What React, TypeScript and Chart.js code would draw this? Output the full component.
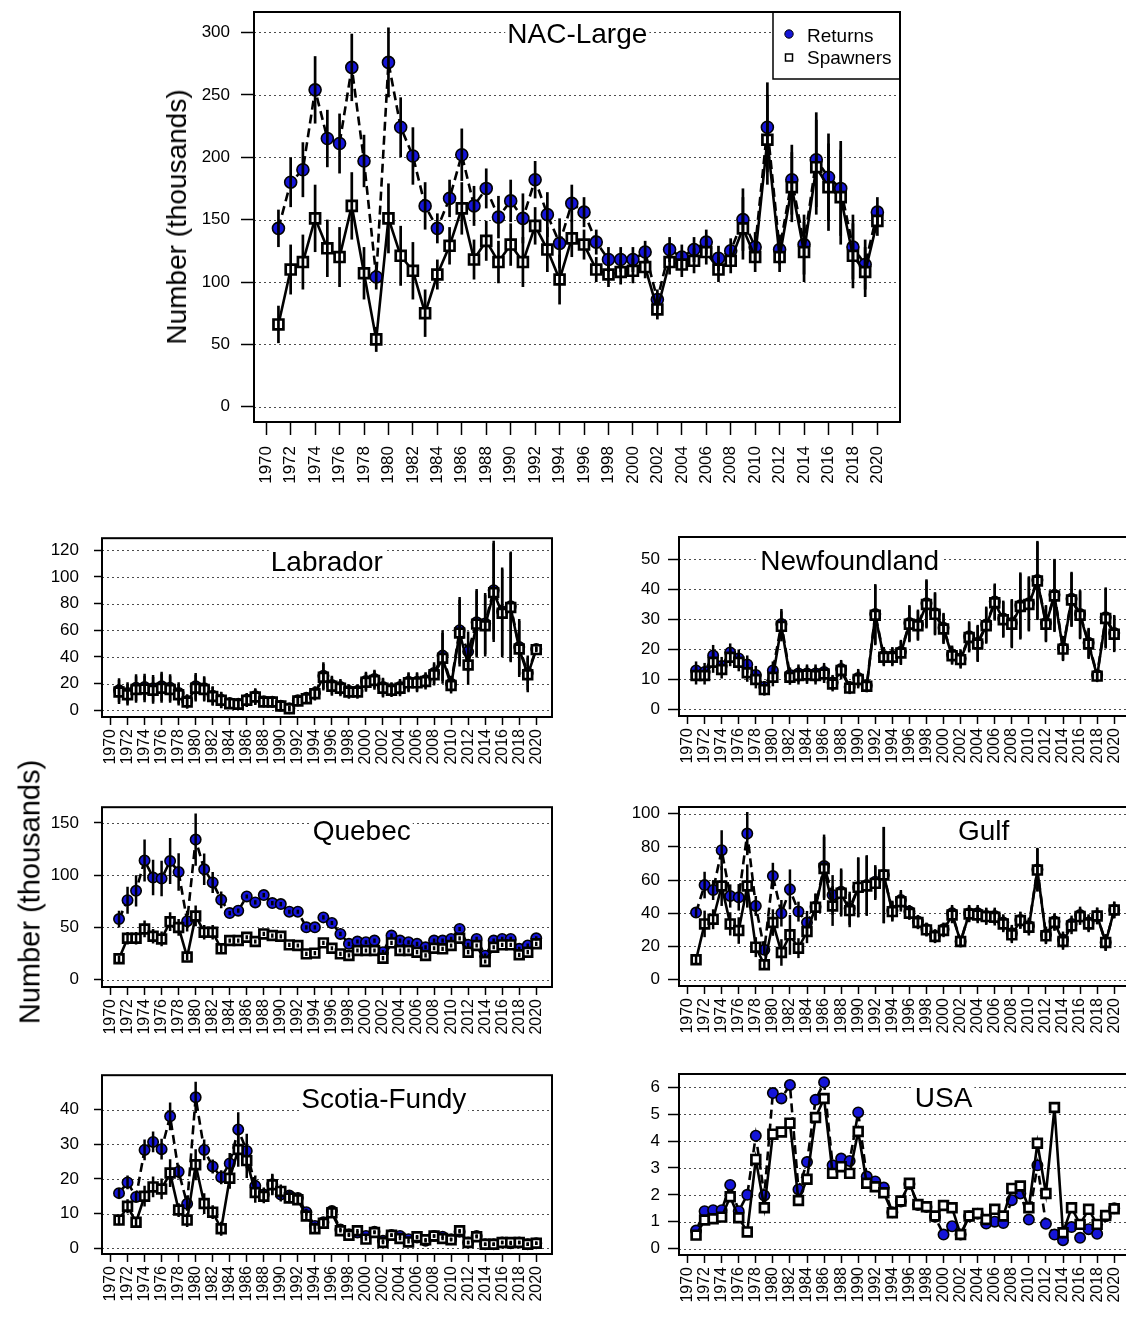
import React, { useEffect, useRef } from "react";
import { Chart, registerables } from "chart.js";

Chart.register(...registerables);

const FONT = "'Liberation Sans', Arial, Helvetica, sans-serif";
const BLUE = "#1515d8";

const years = [
  1971, 1972, 1973, 1974, 1975, 1976, 1977, 1978, 1979, 1980,
  1981, 1982, 1983, 1984, 1985, 1986, 1987, 1988, 1989, 1990,
  1991, 1992, 1993, 1994, 1995, 1996, 1997, 1998, 1999, 2000,
  2001, 2002, 2003, 2004, 2005, 2006, 2007, 2008, 2009, 2010,
  2011, 2012, 2013, 2014, 2015, 2016, 2017, 2018, 2019, 2020,
];
const tickYears = [
  1970, 1972, 1974, 1976, 1978, 1980, 1982, 1984, 1986, 1988, 1990, 1992, 1994,
  1996, 1998, 2000, 2002, 2004, 2006, 2008, 2010, 2012, 2014, 2016, 2018, 2020,
];

// ---------- NAC-Large ----------
const nacReturns = [
  143, 180, 190, 254, 215, 211, 272, 197, 104, 276,
  224, 201, 161, 143, 167, 202, 161, 175, 152, 165,
  151, 182, 154, 131, 163, 156, 132, 118, 118, 118,
  124, 86, 126, 120, 126, 132, 119, 125, 150, 128,
  224, 126, 182, 130, 198, 184, 175, 128, 114, 156,
];
const nacSpawners = [
  66, 110, 116, 151, 127, 120, 161, 107, 54, 151,
  121, 109, 75, 106, 129, 159, 118, 133, 116, 130,
  116, 145, 126, 102, 135, 130, 110, 106, 108, 109,
  112, 78, 116, 114, 117, 124, 110, 117, 143, 120,
  214, 120, 176, 124, 192, 176, 168, 121, 108, 149,
];
const nacErr = [
  15, 20, 22, 27, 23, 24, 27, 21, 10, 28,
  24, 23, 19, 12, 15, 21, 16, 16, 17, 17,
  20, 15, 18, 20, 15, 12, 10, 10, 10, 10,
  9, 8, 10, 10, 10, 10, 10, 10, 25, 12,
  36, 12, 28, 24, 38, 35, 38, 26, 20, 12,
];
const nacTicks = [0, 50, 100, 150, 200, 250, 300];

// ---------- Labrador ----------
const labReturns = [
  15, 13, 17, 17.5, 16.5, 18, 17, 13, 7, 18,
  16.5, 11, 8, 5.5, 5, 8, 10.5, 6.8, 6.5, 3.5,
  1.5, 7.5, 9.5, 13, 26, 19, 17.5, 14.5, 14.5, 22,
  23.5, 17.5, 16, 17.5, 21.5, 21.5, 22.5, 28, 41, 20,
  60, 44, 66, 65, 90, 74, 78, 47.5, 28, 46,
];
const labSpawners = [
  13.7, 11.7, 15.6, 16, 15, 16.6, 15.6, 11.7, 6.2, 16.6,
  15.6, 10.4, 7.5, 5, 4.5, 7.5, 10, 6.2, 6.2, 3.2,
  1.2, 7, 8.7, 12.4, 24.8, 18, 16.6, 13.7, 13.7, 21,
  22.4, 16.6, 15, 16.6, 20.6, 20.6, 21.6, 26.6, 39, 18.6,
  57.9, 34, 64.6, 63.4, 88.2, 72.8, 77, 46, 26.6, 45.5,
];
const labErr = [
  9, 8, 10, 10, 10, 11, 10, 8, 5, 10,
  9, 7, 6, 4, 4, 5, 6, 4, 4, 3,
  2, 4, 4, 5, 10, 7, 6, 5, 5, 7,
  7, 7, 5, 6, 7, 7, 6, 8, 19, 6,
  25, 15, 25, 23, 37, 33, 41, 21, 13, 2,
];
const labTicks = [0, 20, 40, 60, 80, 100, 120];

// ---------- Newfoundland ----------
const nflReturns = [
  13, 12.5, 18, 14.5, 19, 17, 15, 11.5, 7.5, 13,
  28.5, 11.5, 12, 12, 12, 12.5, 9, 13.5, 7.5, 10.5,
  8, 31.8, 17.8, 17.8, 19.2, 28.8, 28.3, 35.4, 32.1, 27.2,
  18.3, 17, 24.4, 22.2, 28.3, 36, 30.3, 28.8, 34.7, 35.4,
  43.2, 28.8, 38.2, 20.5, 36.9, 31.8, 22.2, 11.5, 30.7, 25.5,
];
const nflSpawners = [
  11.3, 11.3, 15.7, 13.3, 17.4, 15.7, 12.2, 10, 6.6, 10.7,
  27.7, 10.7, 11.3, 11.5, 11.3, 11.8, 8.5, 13, 7.1, 10,
  7.7, 31.4, 17.4, 17.4, 18.8, 28.4, 27.9, 35, 31.7, 26.8,
  17.9, 16.6, 24, 21.8, 27.9, 35.6, 29.9, 28.4, 34.3, 35,
  42.8, 28.4, 37.8, 20.1, 36.5, 31.4, 21.8, 11.1, 30.3, 25.1,
];
const nflErr = [
  3, 3, 3.5, 3, 3, 3, 3, 3, 2, 3,
  5, 2.5, 3, 3, 3, 3, 2.5, 3, 2, 3,
  2, 10, 3, 3, 4, 6, 5, 8, 7, 5,
  3, 3, 5, 6, 6, 6, 6, 8, 11, 9,
  13, 6, 12, 4, 9, 8, 5, 2, 10, 6,
];
const nflTicks = [0, 10, 20, 30, 40, 50];

// ---------- Quebec ----------
const qcReturns = [
  58, 76, 85, 114, 97.7, 96.7, 113.5, 103, 56, 134,
  105.6, 93, 76.4, 63.7, 66, 79.6, 73.9, 80.9, 73.3, 72.3,
  65, 65, 50.1, 50.1, 59.6, 54.2, 43.8, 34.3, 36.5, 35.8,
  37.4, 26.3, 42.2, 37.4, 35.8, 34.3, 31, 37.4, 37.4, 39,
  48.5, 33.3, 39, 23, 37.4, 39, 39, 29.5, 32.7, 39.6,
];
const qcSpawners = [
  20, 39.6, 39.6, 48.5, 41.5, 39, 55.5, 50, 21.6, 61,
  45.4, 45.4, 29.5, 37.4, 37.4, 40.6, 36.5, 43.8, 42.2, 41.5,
  33.3, 32.7, 24.7, 25.4, 35.2, 30.1, 24.7, 23.2, 27.9, 27.9,
  27.9, 20.6, 35.2, 27.9, 27.9, 26.3, 23.2, 30.1, 29.5, 32.7,
  39.6, 26.3, 32.7, 17.4, 31, 33.3, 33.3, 23.8, 26.3, 34.3,
];
const qcErr = [
  8, 13, 15, 20, 17, 17, 22, 18, 10, 25,
  15, 10, 8, 2, 2, 2, 2, 2, 2, 2,
  2, 2, 2, 2, 2, 2, 2, 2, 2, 2,
  2, 2, 2, 2, 2, 2, 2, 2, 2, 2,
  2, 2, 2, 2, 2, 2, 2, 2, 2, 2,
];
const qcSpErr = [
  3, 6, 6, 8, 7, 7, 9, 8, 3, 10,
  7, 7, 4, 2, 2, 2, 2, 2, 2, 2,
  2, 2, 2, 2, 2, 2, 2, 2, 2, 2,
  2, 2, 2, 2, 2, 2, 2, 2, 2, 2,
  2, 2, 2, 2, 2, 2, 2, 2, 2, 2,
];
const qcTicks = [0, 50, 100, 150];

// ---------- Gulf ----------
const gulfReturns = [
  40.4, 57, 54, 78, 50.4, 49.6, 88, 44.4, 18, 62.4,
  40, 54.4, 41, 34.4, 44, 68.4, 51, 53, 43, 55.6,
  57, 59, 63, 41.6, 48, 41, 35, 30.4, 26.4, 30.4,
  40, 23, 40, 40, 38.4, 38.4, 34.4, 28, 36, 32.4,
  66.4, 27, 35, 24, 33.6, 39, 34.4, 38.4, 22.4, 42,
];
const gulfSpawners = [
  12, 33.6, 36.4, 56.4, 33.6, 29.6, 56.4, 19.6, 9, 34.4,
  16.4, 27, 19, 29, 43.6, 67, 44.4, 52, 41.6, 55.6,
  56.4, 58, 63, 41, 47, 40, 34.4, 30, 26, 29.6,
  39, 23, 39.6, 39, 38, 37.6, 33.6, 27, 35.6, 31.6,
  66, 26.4, 34.4, 23, 32.4, 38, 33.6, 38.4, 22.4, 42,
];
const gulfErr = [
  3, 8, 6, 12, 7, 8, 13, 6, 3, 8,
  8, 12, 6, 7, 8, 19, 12, 14, 10, 18,
  18, 10, 29, 6, 6, 4, 4, 4, 4, 4,
  5, 3, 5, 5, 5, 5, 5, 5, 5, 5,
  13, 5, 5, 5, 5, 5, 5, 5, 5, 5,
];
const gulfTicks = [0, 20, 40, 60, 80, 100];

// ---------- Scotia-Fundy ----------
const sfReturns = [
  15.9, 19, 14.8, 28.4, 30.7, 28.6, 38.1, 22.1, 12.8, 43.6,
  28.4, 23.6, 20.5, 24.5, 34.3, 28.1, 18, 15.5, 18.5, 15.5,
  15.2, 14.5, 10.4, 6.4, 7.5, 10.7, 5.4, 4, 4.5, 3.5,
  4.7, 2.1, 3.8, 3.5, 2.6, 3.1, 2.1, 3.5, 3.3, 2.6,
  4.7, 1.6, 3.5, 1.1, 1.1, 1.6, 1.4, 1.6, 1.1, 1.4,
];
const sfSpawners = [
  8.1, 12.1, 7.5, 15, 17.7, 17.1, 21.7, 11, 8.1, 24.1,
  12.9, 10.4, 5.6, 20.2, 28.5, 25.3, 16.1, 15, 18.3, 16.4,
  14.5, 14, 9.3, 5.6, 7.2, 10.2, 5, 3.7, 5, 2.6,
  4.5, 1.6, 3.7, 2.8, 1.8, 3.3, 2.4, 3.5, 2.8, 2.4,
  5, 1.6, 3.3, 1.1, 1.1, 1.6, 1.6, 1.6, 1.1, 1.4,
];
const sfErr = [
  1.5, 2, 1.5, 3, 3, 3, 4, 2, 2, 4.5,
  3, 2, 2, 3, 5, 5, 3, 2, 3, 2,
  1.5, 1.5, 1, 1, 1, 1.5, 0.5, 0.5, 0.5, 0.5,
  0.5, 0.5, 0.5, 0.5, 0.5, 0.5, 0.5, 0.5, 0.5, 0.5,
  0.5, 0.5, 0.5, 0.5, 0.5, 0.5, 0.5, 0.5, 0.5, 0.5,
];
const sfTicks = [0, 10, 20, 30, 40];

// ---------- USA ----------
const usaReturns = [
  0.67, 1.39, 1.43, 1.43, 2.37, 1.39, 2.0, 4.2, 1.98, 5.79,
  5.59, 6.09, 2.2, 3.22, 5.54, 6.19, 3.1, 3.35, 3.26, 5.07,
  2.68, 2.5, 2.27, 1.35, 1.75, 2.4, 1.62, 1.55, 1.18, 0.52,
  0.83, 0.52, 1.2, 1.3, 0.93, 1.0, 0.95, 1.8, 2.05, 1.08,
  3.1, 0.92, 0.52, 0.31, 0.8, 0.4, 0.72, 0.55, 1.2, 1.5,
];
const usaSpawners = [
  0.5, 1.06, 1.11, 1.17, 1.93, 1.15, 0.62, 3.32, 1.52, 4.26,
  4.34, 4.67, 1.79, 2.58, 4.88, 5.59, 2.8, 3.05, 2.8, 4.36,
  2.43, 2.3, 2.08, 1.33, 1.77, 2.43, 1.64, 1.56, 1.21, 1.6,
  1.52, 0.52, 1.21, 1.31, 1.08, 1.46, 1.21, 2.24, 2.33, 1.52,
  3.92, 2.05, 5.25, 0.59, 1.52, 0.9, 1.46, 0.9, 1.23, 1.48,
];
const usaErr = [
  0, 0, 0, 0, 0, 0, 0, 0, 0, 0,
  0, 0, 0, 0, 0, 0, 0, 0, 0, 0,
  0, 0, 0, 0, 0, 0, 0, 0, 0, 0,
  0, 0, 0, 0, 0, 0, 0, 0, 0, 0,
  0, 0, 0, 0, 0, 0, 0, 0, 0, 0,
];
const usaTicks = [0, 1, 2, 3, 4, 5, 6];

type Box = { l: number; t: number; r: number; b: number };
type PanelCfg = {
  key: string;
  title: string;
  titleYear: number;
  returns: number[];
  spawners: number[];
  err: number[];
  spErr?: number[];
  yTicks: number[];
  yMin: number;
  yMax: number;
  box: Box;
  big?: boolean;
  yTickLen: number;
  yPad: number;
};

const panels: PanelCfg[] = [
  { key: "nac", title: "NAC-Large", titleYear: 1995.45, returns: nacReturns, spawners: nacSpawners, err: nacErr,
    yTicks: nacTicks, yMin: -12.2, yMax: 316.4, box: { l: 254, t: 12, r: 900, b: 422 }, big: true, yTickLen: 13, yPad: 11 },
  { key: "lab", title: "Labrador", titleYear: 1995.4, returns: labReturns, spawners: labSpawners, err: labErr,
    yTicks: labTicks, yMin: -5, yMax: 129, box: { l: 102, t: 537, r: 552, b: 717 }, yTickLen: 8, yPad: 15 },
  { key: "nfl", title: "Newfoundland", titleYear: 1989.0, returns: nflReturns, spawners: nflSpawners, err: nflErr,
    yTicks: nflTicks, yMin: -2.2, yMax: 57.5, box: { l: 679, t: 537, r: 1130, b: 716 }, yTickLen: 11, yPad: 8 },
  { key: "qc", title: "Quebec", titleYear: 1999.5, returns: qcReturns, spawners: qcSpawners, err: qcErr, spErr: qcSpErr,
    yTicks: qcTicks, yMin: -7, yMax: 165, box: { l: 102, t: 806, r: 552, b: 987 }, yTickLen: 8, yPad: 15 },
  { key: "gulf", title: "Gulf", titleYear: 2004.7, returns: gulfReturns, spawners: gulfSpawners, err: gulfErr,
    yTicks: gulfTicks, yMin: -3.8, yMax: 104, box: { l: 679, t: 807, r: 1130, b: 986 }, yTickLen: 11, yPad: 8 },
  { key: "sf", title: "Scotia-Fundy", titleYear: 2002.1, returns: sfReturns, spawners: sfSpawners, err: sfErr,
    yTicks: sfTicks, yMin: -1.7, yMax: 50, box: { l: 102, t: 1074, r: 552, b: 1254 }, yTickLen: 8, yPad: 15 },
  { key: "usa", title: "USA", titleYear: 2000.0, returns: usaReturns, spawners: usaSpawners, err: usaErr,
    yTicks: usaTicks, yMin: -0.24, yMax: 6.5, box: { l: 679, t: 1074, r: 1130, b: 1255 }, yTickLen: 11, yPad: 8 },
];

function Panel({ cfg }: { cfg: PanelCfg }) {
  const ref = useRef<HTMLCanvasElement>(null);
  const big = !!cfg.big;
  const LW = big ? 95 : 80;
  const TP = 24;
  const RP = 14;
  const BH = big ? 80 : 60;
  const boxW = cfg.box.r - cfg.box.l;
  const boxH = cfg.box.b - cfg.box.t;
  const W = LW + boxW + RP;
  const H = TP + boxH + BH;

  useEffect(() => {
    const canvas = ref.current;
    if (!canvas) return;
    const titleFont = `28px ${FONT}`;

    const deco = {
      id: "deco_" + cfg.key,
      beforeDatasetsDraw(chart: any) {
        const { ctx, chartArea: a, scales } = chart;
        const ys = scales.y;
        const xs = scales.x;
        ctx.save();
        ctx.strokeStyle = "rgba(0,0,0,0.7)";
        ctx.lineWidth = 1;
        ctx.setLineDash([2, 3]);
        cfg.yTicks.forEach((v) => {
          const py = Math.round(ys.getPixelForValue(v)) + 0.5;
          ctx.beginPath();
          ctx.moveTo(a.left, py);
          ctx.lineTo(a.right, py);
          ctx.stroke();
        });
        ctx.setLineDash([]);
        ctx.font = titleFont;
        const tx = xs.getPixelForValue(cfg.titleYear);
        const w = ctx.measureText(cfg.title).width;
        ctx.fillStyle = "#fff";
        ctx.fillRect(tx - w / 2 - 2, a.top + 10, w + 4, 28);
        ctx.restore();
      },
      afterDatasetsDraw(chart: any) {
        const { ctx, chartArea: a, scales } = chart;
        const xs = scales.x;
        const ys = scales.y;
        ctx.save();
        ctx.beginPath();
        ctx.rect(a.left, a.top, a.right - a.left, a.bottom - a.top);
        ctx.clip();
        ctx.strokeStyle = "#000";
        ctx.lineWidth = big ? 2.7 : 2.5;
        ctx.setLineDash([]);
        const bars = (vals: number[], errs: number[]) => {
          vals.forEach((v, i) => {
            const e = errs[i];
            if (!e) return;
            const px = xs.getPixelForValue(years[i]);
            ctx.beginPath();
            ctx.moveTo(px, ys.getPixelForValue(v - e));
            ctx.lineTo(px, ys.getPixelForValue(v + e));
            ctx.stroke();
          });
        };
        bars(cfg.returns, cfg.err);
        bars(cfg.spawners, cfg.spErr || cfg.err);
        ctx.restore();

        ctx.save();
        ctx.font = titleFont;
        ctx.fillStyle = "#000";
        ctx.textAlign = "center";
        ctx.textBaseline = "alphabetic";
        const tx = xs.getPixelForValue(cfg.titleYear);
        ctx.fillText(cfg.title, tx, a.top + (big ? 31 : 33));

        if (big) {
          const lx = a.right - 127;
          const ly = a.top;
          ctx.fillStyle = "#fff";
          ctx.fillRect(lx, ly, 127, 67);
          ctx.strokeStyle = "#000";
          ctx.lineWidth = 1.5;
          ctx.strokeRect(lx, ly, 127, 67);
          ctx.beginPath();
          ctx.arc(lx + 16, ly + 22, 4.2, 0, Math.PI * 2);
          ctx.fillStyle = BLUE;
          ctx.fill();
          ctx.lineWidth = 1;
          ctx.stroke();
          ctx.fillStyle = "#fff";
          ctx.fillRect(lx + 12.5, ly + 42, 7, 7);
          ctx.lineWidth = 1.5;
          ctx.strokeRect(lx + 12.5, ly + 42, 7, 7);
          ctx.fillStyle = "#000";
          ctx.font = `19px ${FONT}`;
          ctx.textAlign = "left";
          ctx.fillText("Returns", lx + 34, ly + 29.5);
          ctx.fillText("Spawners", lx + 34, ly + 52);
        }
        ctx.strokeStyle = "#000";
        ctx.lineWidth = 2;
        ctx.strokeRect(a.left, a.top, a.right - a.left, a.bottom - a.top);
        ctx.restore();
      },
    };

    const rC = big ? 6 : 5.2;
    const rS = big ? 7 : 6.2;

    const chart = new Chart(canvas, {
      type: "line",
      data: {
        datasets: [
          {
            label: "Returns",
            data: years.map((y, i) => ({ x: y, y: cfg.returns[i] })),
            borderColor: "#000",
            borderWidth: 2.6,
            borderDash: [9, 5],
            pointStyle: "circle",
            pointRadius: rC,
            pointBackgroundColor: BLUE,
            pointBorderColor: "#000",
            pointBorderWidth: 1.6,
            tension: 0,
            order: 2,
          },
          {
            label: "Spawners",
            data: years.map((y, i) => ({ x: y, y: cfg.spawners[i] })),
            borderColor: "#000",
            borderWidth: 2.6,
            pointStyle: "rect",
            pointRadius: rS,
            pointBackgroundColor: "#fff",
            pointBorderColor: "#000",
            pointBorderWidth: 2.7,
            tension: 0,
            order: 1,
          },
        ],
      } as any,
      options: {
        responsive: false,
        animation: false,
        events: [],
        layout: { padding: { left: 0, top: TP, right: RP, bottom: 0 } },
        plugins: { legend: { display: false }, tooltip: { enabled: false } },
        scales: {
          x: {
            type: "linear",
            min: 1969,
            max: 2021.85,
            afterBuildTicks: (s: any) => {
              s.ticks = tickYears.map((v) => ({ value: v }));
            },
            afterFit: (s: any) => {
              s.height = BH;
            },
            ticks: {
              autoSkip: false,
              minRotation: 90,
              maxRotation: 90,
              padding: big ? 11 : 4,
              color: "#000",
              font: { family: FONT, size: big ? 17 : 16 },
              callback: (v: any) => String(v),
            },
            grid: {
              display: true,
              drawOnChartArea: false,
              drawTicks: true,
              tickLength: big ? 13 : 8,
              tickColor: "#000",
              tickWidth: 1.5,
            },
            border: { display: false },
          },
          y: {
            type: "linear",
            min: cfg.yMin,
            max: cfg.yMax,
            afterBuildTicks: (s: any) => {
              s.ticks = cfg.yTicks.map((v) => ({ value: v }));
            },
            afterFit: (s: any) => {
              s.width = LW;
            },
            ticks: {
              padding: cfg.yPad,
              color: "#000",
              font: { family: FONT, size: big ? 17 : 17 },
              callback: (v: any) => String(v),
            },
            grid: {
              display: true,
              drawOnChartArea: false,
              drawTicks: true,
              tickLength: cfg.yTickLen,
              tickColor: "#000",
              tickWidth: 1.5,
            },
            border: { display: false },
          },
        },
      } as any,
      plugins: [deco],
    });
    return () => chart.destroy();
  }, []);

  return (
    <canvas
      ref={ref}
      width={W}
      height={H}
      style={{
        position: "absolute",
        left: cfg.box.l - LW,
        top: cfg.box.t - TP,
        width: W,
        height: H,
      }}
    />
  );
}

const axisTitleStyle = (cx: number, cy: number, size: number): React.CSSProperties => ({
  position: "absolute",
  left: cx,
  top: cy,
  transform: "translate(-50%, -50%) rotate(-90deg)",
  whiteSpace: "nowrap",
  fontFamily: FONT,
  fontSize: size,
  color: "#000",
  lineHeight: 1,
});

export default function App() {
  return (
    <div
      style={{
        position: "absolute",
        left: 0,
        top: 0,
        width: 1126,
        height: 1320,
        overflow: "hidden",
        background: "#fff",
      }}
    >
      {panels.map((p) => (
        <Panel key={p.key} cfg={p} />
      ))}
      <div style={axisTitleStyle(177, 217, 28)}>Number (thousands)</div>
      <div style={axisTitleStyle(30, 892, 29)}>Number (thousands)</div>
    </div>
  );
}
